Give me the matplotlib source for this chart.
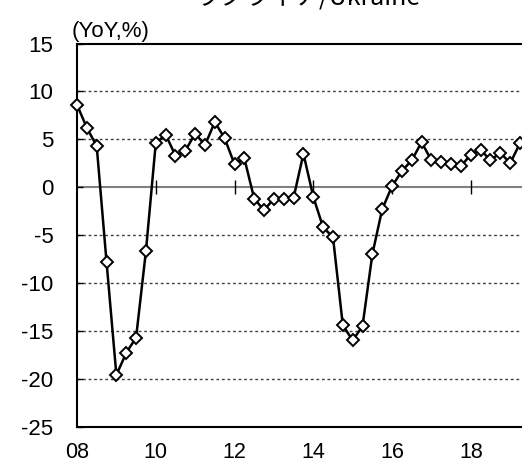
import numpy as np
import matplotlib
matplotlib.use('Agg')
import matplotlib.pyplot as plt

plt.rcParams['font.family'] = ['Liberation Sans', 'DejaVu Sans']
plt.rcParams['axes.unicode_minus'] = False

# quarterly series, 2008Q1 .. 2019Q2 (YoY, %)
values = [8.6, 6.2, 4.3, -7.8,
          -19.6, -17.3, -15.7, -6.7,
          4.6, 5.5, 3.3, 3.8,
          5.6, 4.4, 6.8, 5.1,
          2.4, 3.0, -1.2, -2.4,
          -1.2, -1.2, -1.1, 3.5,
          -1.0, -4.2, -5.2, -14.4,
          -16.0, -14.5, -7.0, -2.3,
          0.1, 1.7, 2.8, 4.7,
          2.8, 2.6, 2.4, 2.2,
          3.4, 3.9, 2.8, 3.6,
          2.5, 4.6]
year_labels = ['08', '10', '12', '14', '16', '18']
y_ticks = [15, 10, 5, 0, -5, -10, -15, -20, -25]
grid_levels = [10, 5, -5, -10, -15, -20]

q = np.arange(len(values))
tick_pos = np.arange(len(year_labels)) * 8

fig = plt.figure(figsize=(5.22, 4.68), dpi=100)
ax = fig.add_axes([77 / 522, 41.3 / 468, 445 / 522, 383.2 / 468])

for lv in grid_levels:
    ax.axhline(lv, color='#404040', lw=1.0, ls=(0, (2, 2)), zorder=1)
ax.axhline(0, color='#808080', lw=1.5, zorder=1)
# small year ticks crossing the zero line
ax.vlines(tick_pos[1:], -0.7, 0.7, color='black', lw=1.0, zorder=2)

ax.plot(q, values, color='black', lw=1.8, marker='D', ms=6.3,
        mfc='white', mec='black', mew=1.4, clip_on=False, zorder=3)

ax.set_xlim(0, 45.2)
ax.set_ylim(-25, 15)
ax.set_xticks(tick_pos)
ax.set_xticklabels(year_labels)
ax.set_yticks(y_ticks)
ax.tick_params(axis='x', length=0, pad=11, labelsize=15.5)
ax.tick_params(axis='y', direction='in', length=4.3, width=1.0, pad=17, labelsize=16)

for s in ['left', 'top', 'bottom']:
    ax.spines[s].set_linewidth(1.5)
ax.spines['right'].set_visible(False)

fig.text(72 / 522, 1 - 37 / 468, '(YoY,%)', fontsize=16, ha='left', va='baseline')
fig.text(308 / 522, 1 - 5 / 468, 'ウクライナ/Ukraine', fontsize=18, ha='center', va='baseline',
         family=['Noto Sans CJK JP', 'DejaVu Sans'])

fig.savefig('out.png', dpi=100)
